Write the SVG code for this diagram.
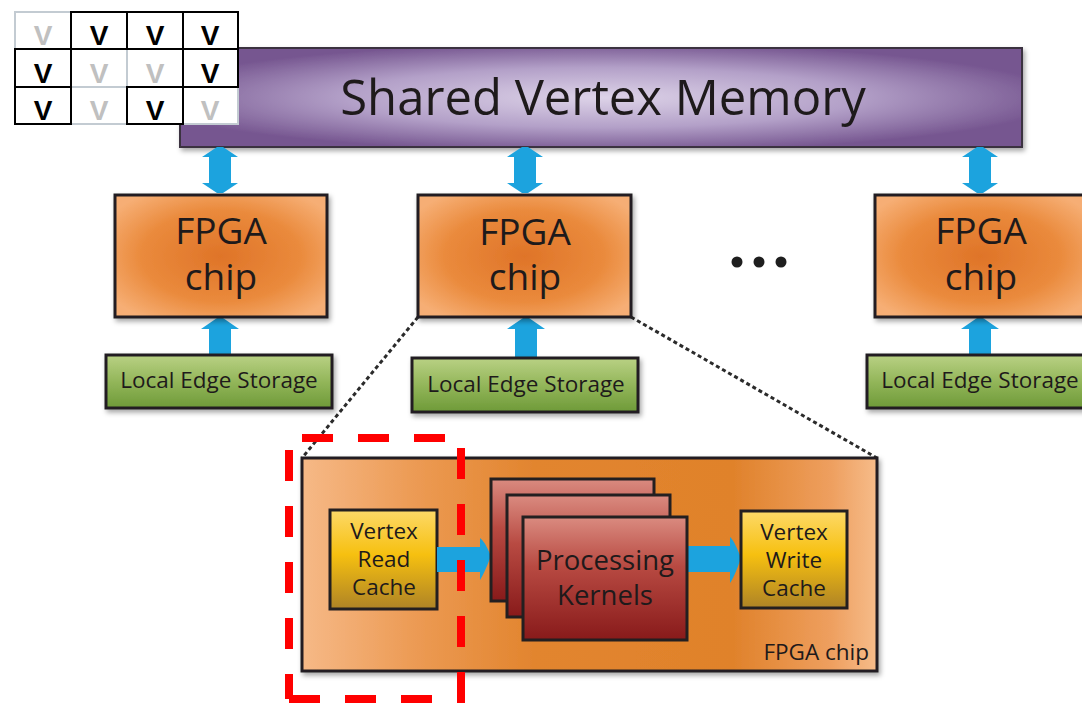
<svg xmlns="http://www.w3.org/2000/svg" width="1082" height="703" viewBox="0 0 1082 703">
  <defs>
    <radialGradient id="gMem" cx="50%" cy="50%" r="55%">
      <stop offset="0" stop-color="#ddd3e8"/>
      <stop offset="0.55" stop-color="#b3a0c8"/>
      <stop offset="1" stop-color="#765690"/>
    </radialGradient>
    <radialGradient id="gChip" cx="50%" cy="50%" r="62%">
      <stop offset="0" stop-color="#df7428"/>
      <stop offset="0.6" stop-color="#ea8a3c"/>
      <stop offset="1" stop-color="#f6ae74"/>
    </radialGradient>
    <linearGradient id="gLes" x1="0" y1="0" x2="0" y2="1">
      <stop offset="0" stop-color="#b9d184"/>
      <stop offset="0.5" stop-color="#93b65a"/>
      <stop offset="1" stop-color="#6e9a38"/>
    </linearGradient>
    <linearGradient id="gBig" x1="0" y1="0" x2="1" y2="0">
      <stop offset="0" stop-color="#f6b987"/>
      <stop offset="0.2" stop-color="#ec9a53"/>
      <stop offset="0.4" stop-color="#e2852f"/>
      <stop offset="0.75" stop-color="#e0822b"/>
      <stop offset="0.92" stop-color="#ee9f5f"/>
      <stop offset="1" stop-color="#f6bc8a"/>
    </linearGradient>
    <linearGradient id="gCache" x1="0" y1="0" x2="0" y2="1">
      <stop offset="0" stop-color="#fdd968"/>
      <stop offset="0.45" stop-color="#f6c010"/>
      <stop offset="1" stop-color="#ae8326"/>
    </linearGradient>
    <linearGradient id="gKern" x1="0" y1="0" x2="0" y2="1">
      <stop offset="0" stop-color="#da8b80"/>
      <stop offset="0.4" stop-color="#b84a42"/>
      <stop offset="1" stop-color="#881a1a"/>
    </linearGradient>
    <filter id="shadow" x="-10%" y="-10%" width="130%" height="140%">
      <feDropShadow dx="2" dy="3" stdDeviation="2.5" flood-color="#000" flood-opacity="0.35"/>
    </filter>
    <style>
      .txt { font-family: "Open Sans", "Noto Sans", "DejaVu Sans", sans-serif; fill: #1e1a1b; text-anchor: middle; }
      .box { stroke: #231f20; stroke-width: 3; }
      .chip { fill: url(#gChip); }
      .les { fill: url(#gLes); }
      .cache { fill: url(#gCache); }
      .kern { fill: url(#gKern); }
      .arrow { fill: #1ca3de; }
      .dotted { stroke: #2b2b2b; stroke-width: 3; stroke-dasharray: 4 3; fill: none; }
      .red { stroke: #ff0000; stroke-width: 8; stroke-dasharray: 31 25; fill: none; }
      .cellB { fill: #fff; stroke: #000; stroke-width: 2; }
      .cellG { fill: #fff; stroke: #c3cbd2; stroke-width: 2; }
      .vB { font-family: "Liberation Sans", Arial, sans-serif; font-size: 28px; font-weight: bold; fill: #000; text-anchor: middle; }
      .vG { font-family: "Liberation Sans", Arial, sans-serif; font-size: 28px; font-weight: bold; fill: #c0c0c0; text-anchor: middle; }
    </style>
  </defs>

  <rect width="1082" height="703" fill="#fff"/>

  <!-- shared memory bar -->
  <g id="shared-memory">
    <rect x="180" y="48" width="842" height="99" fill="url(#gMem)" stroke="#3a3340" stroke-width="2" filter="url(#shadow)"/>
    <text class="txt" x="603" y="115" font-size="49">Shared Vertex Memory</text>
  </g>

  <!-- connectors: bus arrows, zoom lines and data-path arrows -->
  <g id="connectors">
    <!-- memory <-> chip double arrows -->
    <path class="arrow" d="M217,147 L223,147 L238,157 L231,157 L231,183 L238,183 L223,193 L217,193 L202,183 L209,183 L209,157 L202,157 Z"/>
    <path class="arrow" d="M522,147 L528,147 L543,157 L536,157 L536,183 L543,183 L528,193 L522,193 L507,183 L514,183 L514,157 L507,157 Z"/>
    <path class="arrow" d="M977,147 L983,147 L998,157 L991,157 L991,183 L998,183 L983,193 L977,193 L962,183 L969,183 L969,157 L962,157 Z"/>
    <!-- edge storage -> chip arrows -->
    <path class="arrow" d="M217,318 L223,318 L239,329 L231,329 L231,356 L209,356 L209,329 L201,329 Z"/>
    <path class="arrow" d="M523,318 L529,318 L545,329 L537,329 L537,359 L515,359 L515,329 L507,329 Z"/>
    <path class="arrow" d="M977,318 L983,318 L999,329 L991,329 L991,356 L969,356 L969,329 L961,329 Z"/>
    <!-- zoom-in dotted lines -->
    <line class="dotted" x1="418" y1="317" x2="302" y2="458"/>
    <line class="dotted" x1="631" y1="317" x2="877" y2="458"/>
  </g>

  <!-- FPGA chips -->
  <g id="fpga-1">
    <rect class="box chip" x="115" y="195" width="212" height="122" filter="url(#shadow)"/>
    <text class="txt" x="221" y="244" font-size="37">FPGA</text>
    <text class="txt" x="221" y="290" font-size="37">chip</text>
  </g>
  <g id="fpga-2">
    <rect class="box chip" x="418" y="195" width="213" height="122" filter="url(#shadow)"/>
    <text class="txt" x="525" y="245" font-size="37">FPGA</text>
    <text class="txt" x="525" y="290" font-size="37">chip</text>
  </g>
  <g id="fpga-n">
    <rect class="box chip" x="875" y="195" width="212" height="122" filter="url(#shadow)"/>
    <text class="txt" x="981" y="244" font-size="37">FPGA</text>
    <text class="txt" x="981" y="290" font-size="37">chip</text>
  </g>

  <!-- ellipsis -->
  <g id="ellipsis" fill="#1e1e1e">
    <circle cx="737" cy="262" r="5.5"/>
    <circle cx="759" cy="262" r="5.5"/>
    <circle cx="781" cy="262" r="5.5"/>
  </g>

  <!-- local edge storage -->
  <g id="les-1">
    <rect class="box les" x="106" y="355" width="226" height="53" filter="url(#shadow)"/>
    <text class="txt" x="219" y="388" font-size="22.5">Local Edge Storage</text>
  </g>
  <g id="les-2">
    <rect class="box les" x="412" y="358" width="226" height="54" filter="url(#shadow)"/>
    <text class="txt" x="526" y="392" font-size="22.5">Local Edge Storage</text>
  </g>
  <g id="les-n">
    <rect class="box les" x="867" y="355" width="226" height="53" filter="url(#shadow)"/>
    <text class="txt" x="980" y="388" font-size="22.5">Local Edge Storage</text>
  </g>

  <!-- detailed FPGA chip -->
  <g id="fpga-detail">
    <rect class="box" x="302" y="458" width="575" height="213" fill="url(#gBig)" filter="url(#shadow)"/>
    <text class="txt" x="869" y="660" font-size="22.5" style="text-anchor:end">FPGA chip</text>
  </g>

  <g id="read-cache">
    <rect class="box cache" x="330" y="510" width="107" height="99"/>
    <text class="txt" x="384" y="539" font-size="22.5">Vertex</text>
    <text class="txt" x="384" y="567" font-size="22.5">Read</text>
    <text class="txt" x="384" y="595" font-size="22.5">Cache</text>
  </g>

  <g id="data-arrows">
    <path class="arrow" d="M437,547 L480,547 L480,538 Q484,540 491,556 Q484,574 480,580 L480,572 L437,572 Z"/>
    <path class="arrow" d="M687,546 L730,546 L730,537 Q734,540 741,558 Q734,578 730,583 L730,572 L687,572 Z"/>
  </g>

  <g id="kernels">
    <rect class="box kern" x="491" y="479" width="163" height="122"/>
    <rect class="box kern" x="507" y="495" width="163" height="122"/>
    <rect class="box kern" x="523" y="517" width="164" height="123"/>
    <text class="txt" x="605" y="570" font-size="27.5">Processing</text>
    <text class="txt" x="605" y="605" font-size="27.5">Kernels</text>
  </g>

  <g id="write-cache">
    <rect class="box cache" x="741" y="511" width="106" height="97"/>
    <text class="txt" x="794" y="540" font-size="22.5">Vertex</text>
    <text class="txt" x="794" y="568" font-size="22.5">Write</text>
    <text class="txt" x="794" y="596" font-size="22.5">Cache</text>
  </g>

  <!-- highlighted region -->
  <g id="highlight">
    <line class="red" x1="302" y1="438" x2="461" y2="438"/>
    <line class="red" x1="289" y1="450" x2="289" y2="699"/>
    <line class="red" x1="289" y1="699" x2="461" y2="699"/>
    <line class="red" x1="461" y1="448" x2="461" y2="703"/>
  </g>

  <!-- vertex grid -->
  <g id="vertex-grid">
    <rect class="cellG" x="15" y="12" width="56" height="37"/>
    <rect class="cellG" x="71" y="49" width="56" height="38"/>
    <rect class="cellG" x="127" y="49" width="56" height="38"/>
    <rect class="cellG" x="71" y="87" width="56" height="37"/>
    <rect class="cellG" x="183" y="87" width="55" height="37"/>
    <rect class="cellB" x="71" y="12" width="56" height="37"/>
    <rect class="cellB" x="127" y="12" width="56" height="37"/>
    <rect class="cellB" x="183" y="12" width="55" height="37"/>
    <rect class="cellB" x="15" y="49" width="56" height="38"/>
    <rect class="cellB" x="183" y="49" width="55" height="38"/>
    <rect class="cellB" x="15" y="87" width="56" height="37"/>
    <rect class="cellB" x="127" y="87" width="56" height="37"/>
    <text class="vG" x="43" y="45">V</text>
    <text class="vB" x="99" y="45">V</text>
    <text class="vB" x="155" y="45">V</text>
    <text class="vB" x="210" y="45">V</text>
    <text class="vB" x="43" y="83">V</text>
    <text class="vG" x="99" y="83">V</text>
    <text class="vG" x="155" y="83">V</text>
    <text class="vB" x="210" y="83">V</text>
    <text class="vB" x="43" y="120">V</text>
    <text class="vG" x="99" y="120">V</text>
    <text class="vB" x="155" y="120">V</text>
    <text class="vG" x="210" y="120">V</text>
  </g>
</svg>
